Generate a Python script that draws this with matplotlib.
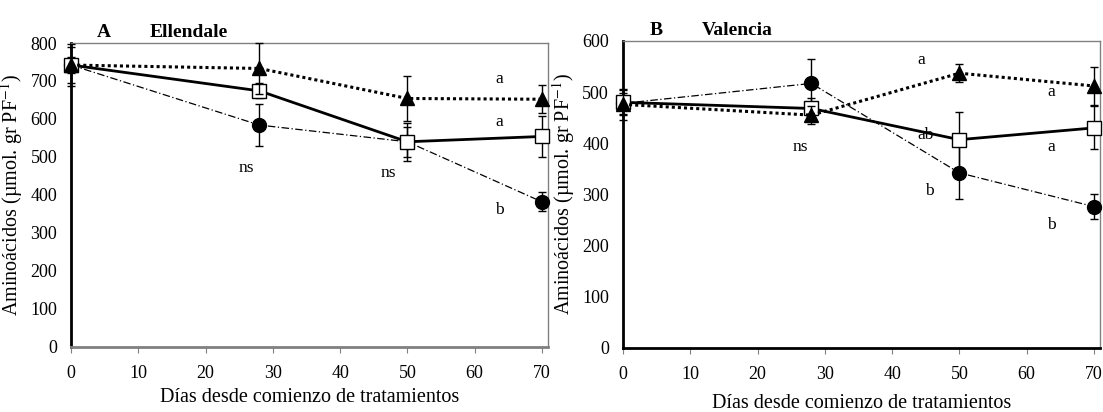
import numpy as np
import matplotlib
matplotlib.use("Agg")
from matplotlib import pyplot as plt

plt.rcParams['font.family'] = ['Liberation Serif', 'DejaVu Serif']
plt.rcParams['mathtext.fontset'] = 'stix'

dias = [0, 28, 50, 70]

# Ellendale
ell_tri = [742, 733, 654, 652]
ell_tri_err = [48, 67, 60, 37]
ell_sq = [742, 674, 540, 554]
ell_sq_err = [20, 20, 50, 55]
ell_cir = [742, 584, 540, 382]
ell_cir_err = [55, 56, 40, 25]
ell_txt = [("ns", 26.1, 470), ("ns", 47.1, 457),
           ("a", 63.6, 705), ("a", 63.6, 592), ("b", 63.6, 360)]

# Valencia
val_tri = [476, 455, 537, 512]
val_tri_err = [30, 18, 18, 38]
val_sq = [480, 468, 407, 430]
val_sq_err = [25, 20, 55, 42]
val_cir = [478, 517, 342, 276]
val_cir_err = [20, 48, 52, 25]
val_txt = [("ns", 26.3, 393), ("a", 44.4, 563), ("ab", 45.0, 416),
           ("b", 45.6, 307), ("a", 63.7, 501), ("a", 63.7, 393), ("b", 63.7, 240)]


def panel(ax, tri, tri_e, sq, sq_e, cir, cir_e, txt, ymax, letra, nombre, bottom_col, xlab_y):
    ax.errorbar(dias, cir, yerr=cir_e, color='black', lw=0.9, ls=(0, (6, 2, 1, 2)),
                marker='o', ms=10, mfc='black', mec='black', capsize=3, elinewidth=1,
                zorder=3, clip_on=False)
    ax.errorbar(dias, sq, yerr=sq_e, color='black', lw=2, ls='-',
                marker='s', ms=9.5, mfc='white', mec='black', mew=1, capsize=3, elinewidth=1,
                zorder=4, clip_on=False)
    ax.errorbar(dias, tri, yerr=tri_e, color='black', lw=2.2, ls=(0, (1, 1)),
                marker='^', ms=10.5, mfc='black', mec='black', capsize=3, elinewidth=1,
                zorder=5, clip_on=False)
    for t, x, y in txt:
        ax.text(x, y, t, fontsize=12.5, ha='center', va='center')

    ax.set_xlim(0, 70.9)
    ax.set_ylim(0, ymax)
    ax.set_xticks(range(0, 71, 10))
    ax.set_yticks(range(0, ymax + 1, 100))
    ax.tick_params(axis='x', length=4, color='gray', labelsize=13, pad=9)
    ax.tick_params(axis='y', length=0, labelsize=13, pad=10)
    ax.spines['left'].set_color('black')
    ax.spines['left'].set_linewidth(2)
    ax.spines['bottom'].set_color(bottom_col)
    ax.spines['bottom'].set_linewidth(2)
    for s in ['top', 'right']:
        ax.spines[s].set_color('gray')
        ax.spines[s].set_linewidth(1)
    ax.set_ylabel('Aminoácidos (µmol. gr PF$^{-1}$)', fontsize=14.5, labelpad=4)
    ax.set_xlabel('Días desde comienzo de tratamientos', fontsize=14.5)
    ax.xaxis.set_label_coords(0.5, xlab_y)
    ax.text(0.055, 1.005, letra, transform=ax.transAxes, fontsize=14, fontweight='bold', va='bottom')
    ax.text(0.165, 1.005, nombre, transform=ax.transAxes, fontsize=14, fontweight='bold', va='bottom')


fig = plt.figure(figsize=(11.03, 4.12), dpi=100)
ax1 = fig.add_axes([0.0644, 0.158, 0.4324, 0.7376])
ax2 = fig.add_axes([0.5648, 0.156, 0.4325, 0.7445])

panel(ax1, ell_tri, ell_tri_err, ell_sq, ell_sq_err, ell_cir, ell_cir_err, ell_txt,
      800, 'A', 'Ellendale', 'gray', -0.135)
panel(ax2, val_tri, val_tri_err, val_sq, val_sq_err, val_cir, val_cir_err, val_txt,
      600, 'B', 'Valencia', 'black', -0.15)

fig.savefig('out.png', dpi=100)
